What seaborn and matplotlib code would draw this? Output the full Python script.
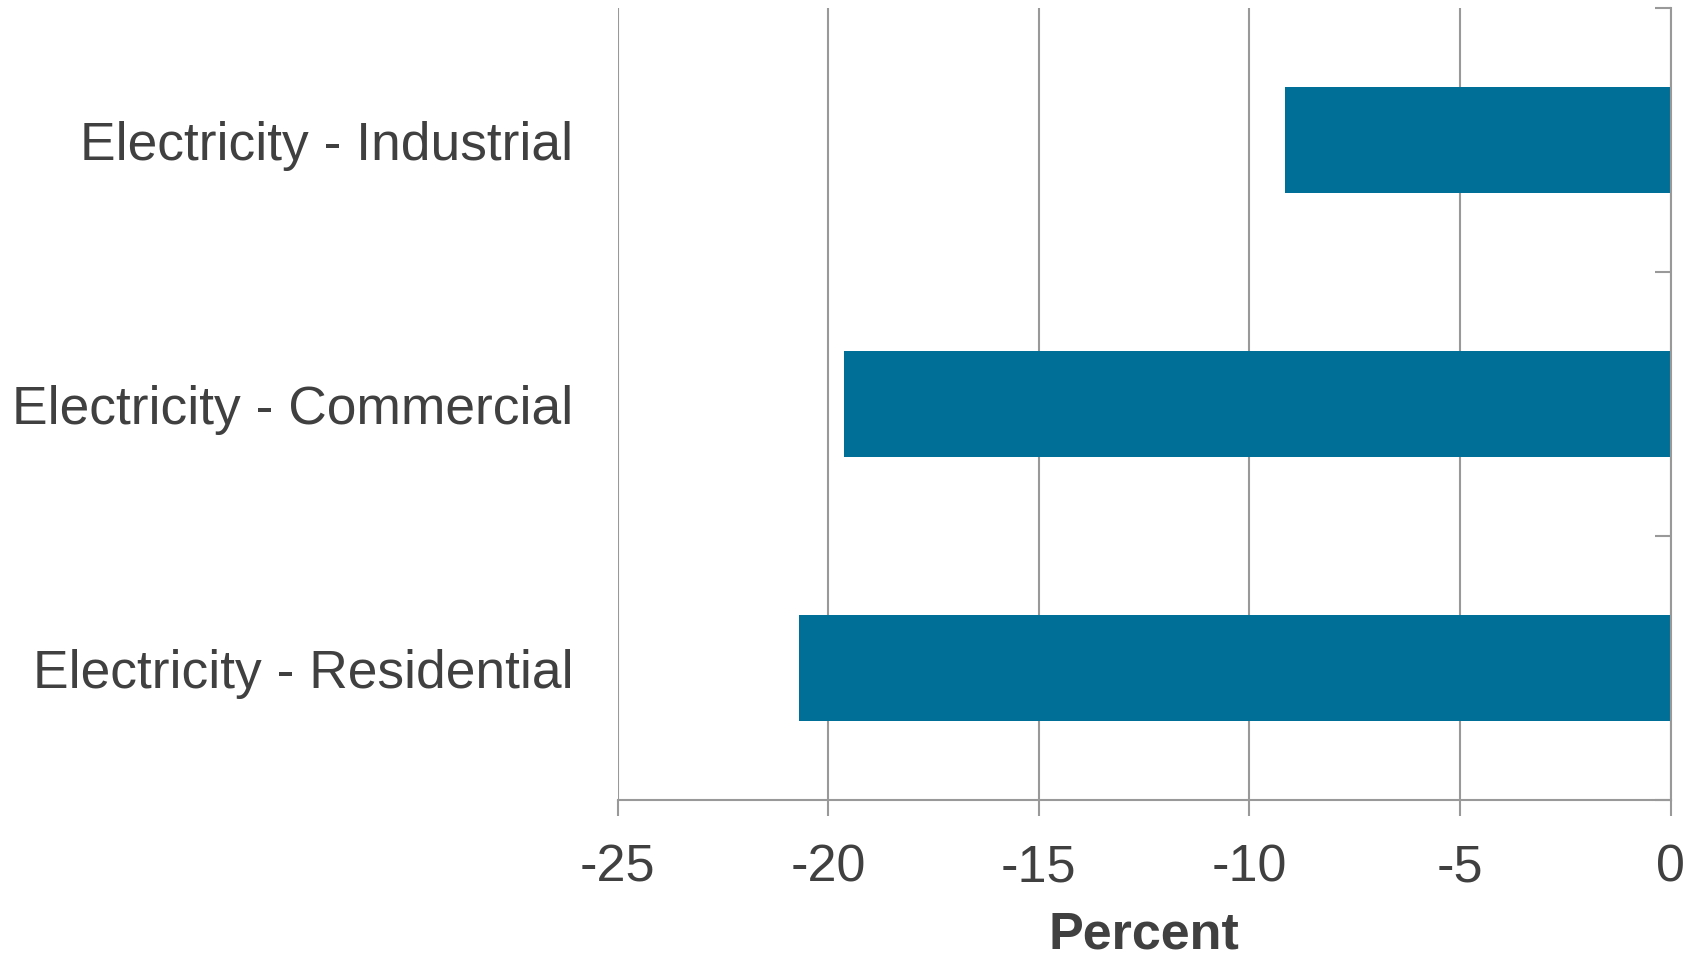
import matplotlib
matplotlib.use("Agg")
import matplotlib.pyplot as plt
import seaborn as sns
import pandas as pd

categories = ["Electricity - Industrial", "Electricity - Commercial", "Electricity - Residential"]
values = [-9.15, -19.63, -20.69]
xticks = [-25, -20, -15, -10, -5, 0]
xlabel = "Percent"

sns.set_theme(style="white")
plt.rcParams["font.family"] = ["Liberation Sans", "DejaVu Sans"]

df = pd.DataFrame({"category": categories, "value": values})

fig = plt.figure(figsize=(17.03, 9.57), dpi=100)
ax = fig.add_axes([0.3627, 0.164, 0.9810 - 0.3627, 0.9916 - 0.164])

sns.barplot(data=df, x="value", y="category", orient="h", color="#006F98",
            width=0.4, saturation=1, edgecolor="none", ax=ax)

gray = "#999999"
text = "#404040"
ax.set_xlim(-25, 0)
ax.set_ylim(2.5, -0.5)
ax.set_xticks(xticks)
ax.set_xticklabels([str(t) for t in xticks])
ax.set_axisbelow(True)
ax.grid(axis="x", color=gray, linewidth=1.5)
ax.grid(axis="y", visible=False)

for s in ["top", "left"]:
    ax.spines[s].set_visible(False)
for s in ["right", "bottom"]:
    ax.spines[s].set_color(gray)
    ax.spines[s].set_linewidth(1.5)

ax.tick_params(axis="x", which="major", bottom=True, direction="out", length=11.5,
               width=1.5, color=gray, labelsize=37.5, labelcolor=text, pad=20)
ax.tick_params(axis="y", which="major", left=False, right=False, labelleft=True,
               labelsize=38.4, labelcolor=text, pad=26)
ax.set_yticks([-0.5, 0.5, 1.5, 2.5], minor=True)
ax.tick_params(axis="y", which="minor", left=False, right=True, direction="in",
               length=11.5, width=1.5, color=gray)

ax.set_ylabel("")
ax.set_xlabel(xlabel, fontsize=37.5, fontweight="bold", color=text, labelpad=12.5)

fig.savefig("out.png", dpi=100, facecolor="white")
